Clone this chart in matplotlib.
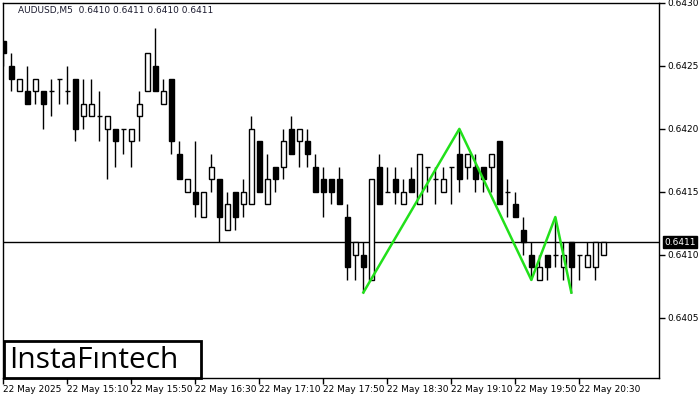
import matplotlib

matplotlib.use("Agg")
import matplotlib.pyplot as plt

# AUDUSD M5, 22 May 2025, bars from 14:30 to 20:45
opens = [
    0.6427, 0.6425, 0.6423, 0.6423, 0.6423, 0.6423, 0.6423, 0.6424, 0.6423, 0.6424,
    0.6421, 0.6421, 0.6421, 0.6420, 0.6420, 0.6420, 0.6419, 0.6421, 0.6423, 0.6425,
    0.6422, 0.6424, 0.6418, 0.6415, 0.6415, 0.6413, 0.6416, 0.6416, 0.6412, 0.6415,
    0.6414, 0.6414, 0.6419, 0.6414, 0.6417, 0.6417, 0.6420, 0.6419, 0.6419, 0.6417,
    0.6416, 0.6416, 0.6416, 0.6413, 0.6410, 0.6410, 0.6408, 0.6417, 0.6415, 0.6416,
    0.6414, 0.6416, 0.6414, 0.6417, 0.6416, 0.6415, 0.6417, 0.6418, 0.6417, 0.6417,
    0.6417, 0.6417, 0.6419, 0.6415, 0.6414, 0.6412, 0.6410, 0.6408, 0.6410, 0.6410,
    0.6409, 0.6411, 0.6410, 0.6409, 0.6409, 0.6410,
]
highs = [
    0.6427, 0.6426, 0.6424, 0.6425, 0.6424, 0.6423, 0.6424, 0.6424, 0.6425, 0.6424,
    0.6424, 0.6424, 0.6423, 0.6421, 0.6420, 0.6420, 0.6420, 0.6423, 0.6426, 0.6428,
    0.6424, 0.6424, 0.6419, 0.6416, 0.6419, 0.6415, 0.6418, 0.6416, 0.6415, 0.6415,
    0.6416, 0.6421, 0.6419, 0.6418, 0.6417, 0.6420, 0.6421, 0.6420, 0.6420, 0.6418,
    0.6417, 0.6416, 0.6417, 0.6414, 0.6411, 0.6411, 0.6416, 0.6418, 0.6417, 0.6417,
    0.6416, 0.6417, 0.6418, 0.6417, 0.6417, 0.6417, 0.6417, 0.6420, 0.6418, 0.6418,
    0.6417, 0.6418, 0.6419, 0.6416, 0.6415, 0.6413, 0.6411, 0.6410, 0.6410, 0.6413,
    0.6411, 0.6411, 0.6410, 0.6411, 0.6411, 0.6411,
]
lows = [
    0.6425, 0.6423, 0.6423, 0.6422, 0.6422, 0.6420, 0.6421, 0.6422, 0.6422, 0.6419,
    0.6420, 0.6421, 0.6419, 0.6416, 0.6417, 0.6418, 0.6417, 0.6419, 0.6423, 0.6423,
    0.6422, 0.6418, 0.6416, 0.6415, 0.6413, 0.6413, 0.6415, 0.6411, 0.6412, 0.6412,
    0.6413, 0.6414, 0.6415, 0.6414, 0.6415, 0.6416, 0.6418, 0.6417, 0.6417, 0.6415,
    0.6413, 0.6414, 0.6414, 0.6408, 0.6408, 0.6407, 0.6408, 0.6414, 0.6415, 0.6414,
    0.6414, 0.6415, 0.6414, 0.6415, 0.6414, 0.6415, 0.6414, 0.6415, 0.6416, 0.6415,
    0.6415, 0.6415, 0.6414, 0.6413, 0.6413, 0.6410, 0.6408, 0.6408, 0.6408, 0.6409,
    0.6408, 0.6407, 0.6408, 0.6409, 0.6408, 0.6410,
]
closes = [
    0.6426, 0.6424, 0.6424, 0.6422, 0.6424, 0.6422, 0.6423, 0.6424, 0.6423, 0.6420,
    0.6422, 0.6422, 0.6421, 0.6421, 0.6419, 0.6420, 0.6420, 0.6422, 0.6426, 0.6423,
    0.6423, 0.6419, 0.6416, 0.6416, 0.6414, 0.6415, 0.6417, 0.6413, 0.6414, 0.6413,
    0.6415, 0.6420, 0.6415, 0.6416, 0.6416, 0.6419, 0.6418, 0.6420, 0.6418, 0.6415,
    0.6415, 0.6415, 0.6414, 0.6409, 0.6411, 0.6409, 0.6416, 0.6414, 0.6415, 0.6415,
    0.6415, 0.6415, 0.6418, 0.6417, 0.6416, 0.6416, 0.6417, 0.6416, 0.6418, 0.6416,
    0.6416, 0.6418, 0.6414, 0.6415, 0.6413, 0.6411, 0.6409, 0.6409, 0.6409, 0.6410,
    0.6410, 0.6409, 0.6410, 0.6410, 0.6411, 0.6411,
]

# triple bottom pattern (bar index, price)
pattern_bars = [45, 57, 66, 69, 71]
pattern_prices = [0.6407, 0.6420, 0.6408, 0.6413, 0.6407]

current_price = 0.6411

xtick_bars = [0, 8, 16, 24, 32, 40, 48, 56, 64, 72]
xtick_labels = [
    "22 May 2025", "22 May 15:10", "22 May 15:50", "22 May 16:30", "22 May 17:10",
    "22 May 17:50", "22 May 18:30", "22 May 19:10", "22 May 19:50", "22 May 20:30",
]
yticks = [0.6405, 0.6410, 0.6415, 0.6420, 0.6425, 0.6430]

fig = plt.figure(figsize=(7, 4), dpi=100)
ax = fig.add_axes([3 / 700, 22 / 400, 656 / 700, 375 / 400])

body_w = 0.6
for i, (o, h, l, c) in enumerate(zip(opens, highs, lows, closes)):
    ax.vlines(i, l, h, color="black", lw=1, zorder=2)
    if o == c:
        ax.hlines(o, i - body_w / 2, i + body_w / 2, color="black", lw=1, zorder=3)
    else:
        face = "white" if c > o else "black"
        ax.bar(i, abs(c - o), bottom=min(o, c), width=body_w, color=face,
               edgecolor="black", lw=1, zorder=3)

ax.axhline(current_price, color="black", lw=1, zorder=1)
ax.plot(pattern_bars, pattern_prices, color="#22e01b", lw=1.8, zorder=4)

ax.set_xlim(-0.05, 81.96)
ax.set_ylim(0.640021, 0.6430)

ax.yaxis.tick_right()
ax.set_yticks(yticks)
ax.set_yticklabels([f"{v:.4f}" for v in yticks])
ax.set_xticks(xtick_bars)
ax.set_xticklabels(xtick_labels, ha="left")
ax.tick_params(axis="both", direction="out", length=4, width=1, labelsize=6.5, pad=2, colors="black")
ax.tick_params(axis="x", pad=1)
for s in ax.spines.values():
    s.set_linewidth(1)

ax.text(15 / 656, 1 - 8 / 375, "AUDUSD,M5  0.6410 0.6411 0.6410 0.6411", transform=ax.transAxes,
        fontsize=6.5, va="center", ha="left", color="#1a1a2e")

# current price marker on the scale
ax.annotate(f"{current_price:.4f}", xy=(1, current_price), xycoords=("axes fraction", "data"),
            xytext=(4, 0), textcoords="offset points", fontsize=6.5, color="white", va="center",
            ha="left", bbox=dict(boxstyle="square,pad=0.15", fc="black", ec="black"), zorder=10,
            annotation_clip=False)

# logo box
fig.patches.append(plt.Rectangle((4 / 700, 22 / 400), 197 / 700, 37 / 400, transform=fig.transFigure,
                                 fc="white", ec="black", lw=2, zorder=5))
fig.text(9 / 700, 40 / 400, "InstaFıntech", fontsize=21.5, family="Open Sans", weight="medium",
         va="center", ha="left", color="black", zorder=6)

fig.savefig("out.png", dpi=100)
